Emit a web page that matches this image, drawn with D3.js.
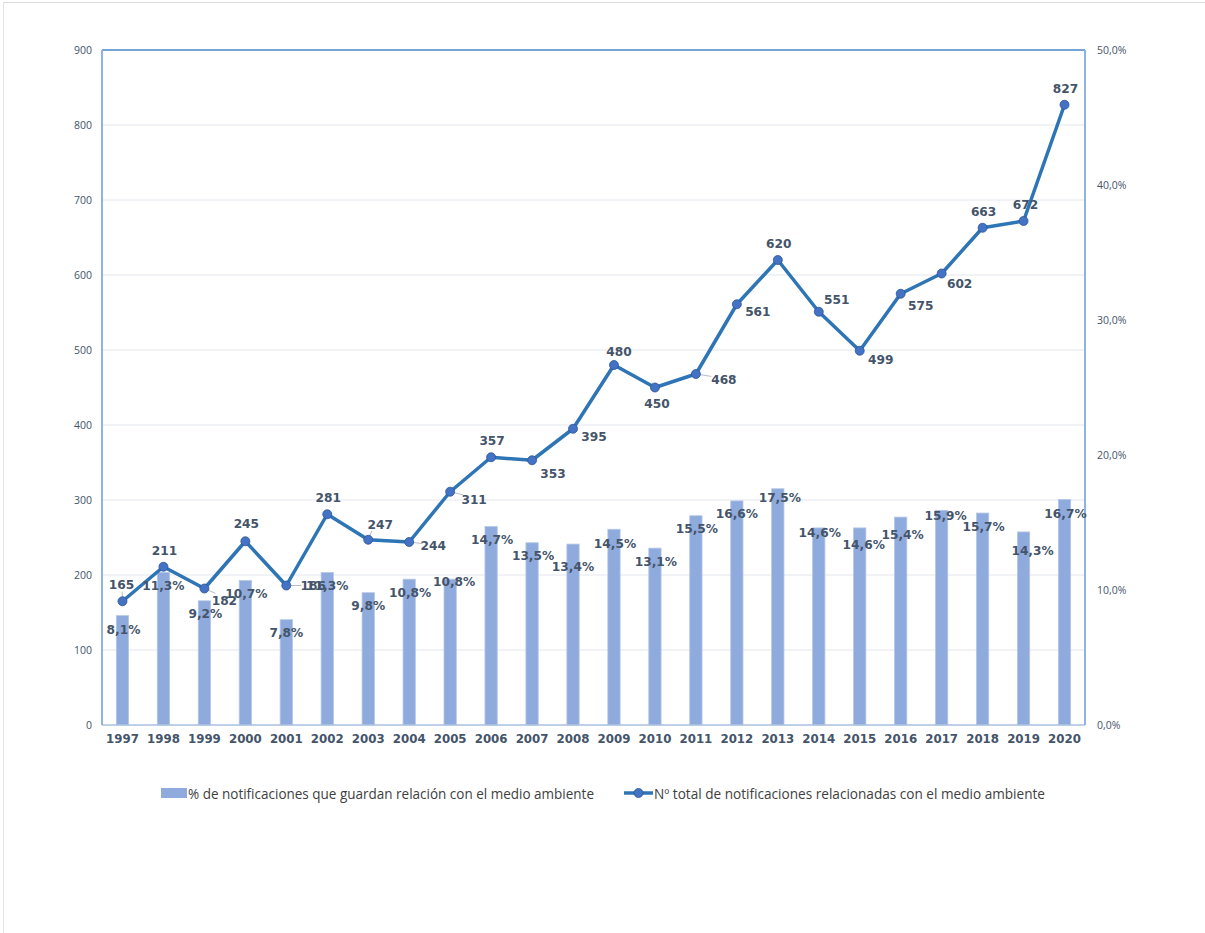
<!DOCTYPE html>
<html><head><meta charset="utf-8">
<script src="https://cdn.jsdelivr.net/npm/d3@7"></script>
<style>
html,body{margin:0;padding:0;background:#fff;}
svg{display:block;}
</style></head>
<body>
<svg id="chart" width="1205" height="933"></svg>
<script>
// ---- data ----
const years = ["1997","1998","1999","2000","2001","2002","2003","2004","2005","2006","2007","2008","2009","2010","2011","2012","2013","2014","2015","2016","2017","2018","2019","2020"];
const pctValues = [8.1,11.3,9.2,10.7,7.8,11.3,9.8,10.8,10.8,14.7,13.5,13.4,14.5,13.1,15.5,16.6,17.5,14.6,14.6,15.4,15.9,15.7,14.3,16.7];
const totalValues = [165,211,182,245,186,281,247,244,311,357,353,395,480,450,468,561,620,551,499,575,602,663,672,827];
const leftTicks = [0,100,200,300,400,500,600,700,800,900];
const rightTicks = [0,10,20,30,40,50];
const seriesNames = ["% de notificaciones que guardan relación con el medio ambiente","Nº total de notificaciones relacionadas con el medio ambiente"];

// label placement (offsets from the mark, in px)
const lineLabelOffsets = [[-1,-16],[1,-16],[20,12],[1,-17],[27,0],[1,-16],[12,-15],[24,4],[24,8],[1,-16],[21,14],[21,8],[5,-13],[2,16],[28,6],[21,8],[1,-16],[18,-12],[21,9],[20,12],[18,10],[1,-16],[2,-16],[1,-16]];
const barLabelOffsets = [[1,14],[0,14],[1,13],[1,13],[0,13],[0,14],[0,13],[1,13.5],[4,3],[1,13.5],[1,13],[0,22.5],[1,15],[1,13.5],[1,13.5],[0,13.5],[2,9],[1,5],[4,17],[2,18],[4,6],[1,14],[9,19],[1,14]];
const leaderIdx = [0,2,4,6,7,8,14];

const svg = d3.select("#chart");
const L = 102, R = 1085, T = 50, B = 725;
const textCol = "#44546a";

// page frame (top and left edges visible)
svg.append("line").attr("x1",3).attr("x2",1205).attr("y1",2.5).attr("y2",2.5).attr("stroke","#d9dce3").attr("stroke-width",1);
svg.append("line").attr("x1",3.5).attr("x2",3.5).attr("y1",2).attr("y2",933).attr("stroke","#e3e5ea").attr("stroke-width",1);

const x = d3.scaleBand().domain(years).range([L,R]).paddingInner(0.7).paddingOuter(0.35);
const xc = d => x(d) + x.bandwidth()/2;
const yL = d3.scaleLinear().domain([0,900]).range([B,T]);
const yR = d3.scaleLinear().domain([0,50]).range([B,T]);

// gridlines
svg.append("g").selectAll("line").data(leftTicks.filter(t=>t>0 && t<900)).join("line")
  .attr("x1",L).attr("x2",R).attr("y1",d=>yL(d)).attr("y2",d=>yL(d))
  .attr("stroke","#e3e6ee").attr("stroke-width",1);

// axes
const axL = d3.axisLeft(yL).tickValues(leftTicks).tickSize(0).tickPadding(10).tickFormat(d3.format("d"));
const gL = svg.append("g").attr("transform",`translate(${L},0)`).call(axL);
gL.select(".domain").remove();
gL.selectAll("text").attr("font-family","'Open Sans', sans-serif").attr("font-size","10.5px").attr("fill",textCol);

const axR = d3.axisRight(yR).tickValues(rightTicks).tickSize(0).tickPadding(12)
  .tickFormat(d => d3.format(".1f")(d).replace(".",",") + "%");
const gR = svg.append("g").attr("transform",`translate(${R},0)`).call(axR);
gR.select(".domain").remove();
gR.selectAll("text").attr("font-family","'Open Sans', sans-serif").attr("font-size","10.5px").attr("fill",textCol);

const axB = d3.axisBottom(x).tickSize(0).tickPadding(10);
const gB = svg.append("g").attr("transform",`translate(0,${B})`).call(axB);
gB.select(".domain").remove();
gB.selectAll("text").attr("font-family","'DejaVu Sans', Verdana, sans-serif").attr("font-weight","bold")
  .attr("font-size","11.8px").attr("fill",textCol);

// bars
svg.append("g").selectAll("rect").data(years).join("rect")
  .attr("x",d=>x(d)).attr("width",x.bandwidth())
  .attr("y",(d,i)=>yR(pctValues[i])).attr("height",(d,i)=>B - yR(pctValues[i]))
  .attr("fill","#8faadc").attr("stroke","#b4c7e7").attr("stroke-width",0.8);

// frame lines
svg.append("line").attr("x1",L).attr("x2",R).attr("y1",T).attr("y2",T).attr("stroke","#4a86c8").attr("stroke-width",1.5);
svg.append("line").attr("x1",L).attr("x2",R).attr("y1",B).attr("y2",B).attr("stroke","#a9c1e0").attr("stroke-width",1.5);
svg.append("line").attr("x1",L).attr("x2",L).attr("y1",T).attr("y2",B).attr("stroke","#8fb4e3").attr("stroke-width",2);
svg.append("line").attr("x1",R).attr("x2",R).attr("y1",T).attr("y2",B).attr("stroke","#8fb4e3").attr("stroke-width",2);

// leader lines
svg.append("g").selectAll("line").data(leaderIdx).join("line")
  .attr("x1",i=>xc(years[i])).attr("y1",i=>yL(totalValues[i]))
  .attr("x2",i=>xc(years[i]) + lineLabelOffsets[i][0]*(lineLabelOffsets[i][0]>15?0.55:0.3))
  .attr("y2",i=>yL(totalValues[i]) + lineLabelOffsets[i][1]*(lineLabelOffsets[i][0]>15?0.4:0.6))
  .attr("stroke","#b8bcc6").attr("stroke-width",1);

// line
const line = d3.line().x((d,i)=>xc(years[i])).y(d=>yL(d));
svg.append("path").datum(totalValues).attr("d",line)
  .attr("fill","none").attr("stroke","#2e75b6").attr("stroke-width",3.5).attr("stroke-linejoin","round");
svg.append("g").selectAll("circle").data(totalValues).join("circle")
  .attr("cx",(d,i)=>xc(years[i])).attr("cy",d=>yL(d)).attr("r",4.5)
  .attr("fill","#4472c4").attr("stroke","#2f5597").attr("stroke-width",0.8);

// bar labels
svg.append("g").selectAll("text").data(pctValues).join("text")
  .attr("x",(d,i)=>xc(years[i]) + barLabelOffsets[i][0])
  .attr("y",(d,i)=>yR(d) + barLabelOffsets[i][1])
  .attr("text-anchor","middle").attr("dominant-baseline","central")
  .attr("font-family","'DejaVu Sans', Verdana, sans-serif").attr("font-weight","bold").attr("font-size","12.2px")
  .attr("fill",textCol)
  .text(d => d3.format(".1f")(d).replace(".",",") + "%");

// line labels
svg.append("g").selectAll("text").data(totalValues).join("text")
  .attr("x",(d,i)=>xc(years[i]) + lineLabelOffsets[i][0])
  .attr("y",(d,i)=>yL(d) + lineLabelOffsets[i][1])
  .attr("text-anchor","middle").attr("dominant-baseline","central")
  .attr("font-family","'DejaVu Sans', Verdana, sans-serif").attr("font-weight","bold").attr("font-size","12.2px")
  .attr("fill",textCol)
  .text(d => d);

// legend
const lg = svg.append("g");
lg.append("rect").attr("x",161).attr("y",788).attr("width",26).attr("height",10).attr("fill","#8faadc");
lg.append("text").attr("x",188).attr("y",793).attr("dominant-baseline","central")
  .attr("font-family","'Liberation Sans Narrow', 'Open Sans', sans-serif").attr("font-size","14px").attr("fill","#404040")
  .attr("textLength",406).attr("lengthAdjust","spacingAndGlyphs")
  .text(seriesNames[0]);
lg.append("line").attr("x1",624).attr("x2",653).attr("y1",793).attr("y2",793).attr("stroke","#2e75b6").attr("stroke-width",3.5);
lg.append("circle").attr("cx",638.5).attr("cy",793).attr("r",4.5).attr("fill","#4472c4").attr("stroke","#2f5597").attr("stroke-width",0.8);
lg.append("text").attr("x",654).attr("y",793).attr("dominant-baseline","central")
  .attr("font-family","'Liberation Sans Narrow', 'Open Sans', sans-serif").attr("font-size","14px").attr("fill","#404040")
  .attr("textLength",391).attr("lengthAdjust","spacingAndGlyphs")
  .text(seriesNames[1]);
</script>
</body></html>
